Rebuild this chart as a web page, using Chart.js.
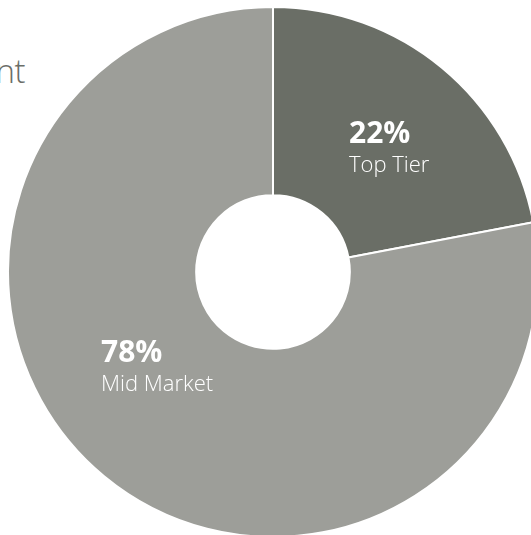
<!DOCTYPE html>
<html>
<head>
<meta charset="utf-8">
<script src="https://cdn.jsdelivr.net/npm/chart.js@4"></script>
<style>
  html, body { margin: 0; padding: 0; background: #fff; overflow: hidden; }
  body { width: 531px; height: 535px; position: relative; font-family: "Open Sans", sans-serif; }
  .title { position: absolute; right: 506px; top: 48px; font-size: 33px; font-weight: 300; color: #6b6e68; white-space: nowrap; letter-spacing: -0.5px; }
  .wrap { position: absolute; left: 7px; top: 6px; width: 532px; height: 532px; }
</style>
</head>
<body>
<div class="title">nt</div>
<div class="wrap"><canvas id="segmentChart"></canvas></div>
<script>
// Share by segment
const segments = ["Top Tier", "Mid Market"];
const shares = [22, 78];
const sliceColors = ["#6a6e66", "#9d9e99"];
// label anchor (baseline of the percentage), relative to chart centre
const labelOffsets = [[76, -129], [-172, 90]];

const segmentLabels = {
  id: "segmentLabels",
  afterDatasetsDraw(chart) {
    const ctx = chart.ctx;
    const arc0 = chart.getDatasetMeta(0).data[0];
    const cx = arc0.x, cy = arc0.y;
    ctx.save();
    ctx.fillStyle = "#fff";
    ctx.textAlign = "left";
    ctx.textBaseline = "alphabetic";
    segments.forEach(function (name, i) {
      const x = cx + labelOffsets[i][0];
      const y = cy + labelOffsets[i][1];
      ctx.font = "bold 30px 'Open Sans'";
      ctx.fillText(shares[i] + "%", x, y);
      ctx.font = "300 22px 'Open Sans'";
      ctx.fillText(name, x, y + 29);
    });
    ctx.restore();
  },
};

new Chart(document.getElementById("segmentChart").getContext("2d"), {
  type: "doughnut",
  data: {
    labels: segments,
    datasets: [
      {
        data: shares,
        backgroundColor: sliceColors,
        borderColor: "#fff",
        borderWidth: 2,
      },
    ],
  },
  options: {
    responsive: true,
    maintainAspectRatio: false,
    animation: false,
    cutout: "29%",
    plugins: { legend: { display: false }, tooltip: { enabled: false } },
  },
  plugins: [segmentLabels],
});
</script>
</body>
</html>
